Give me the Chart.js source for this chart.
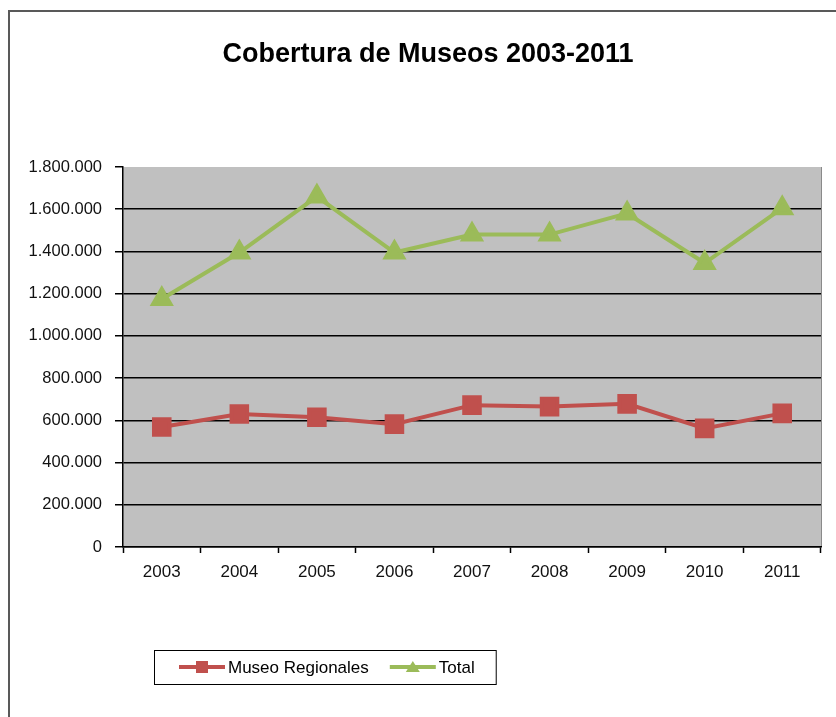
<!DOCTYPE html>
<html>
<head>
<meta charset="utf-8">
<script src="https://cdn.jsdelivr.net/npm/chart.js@4/dist/chart.umd.min.js"></script>
<style>
  html,body{margin:0;padding:0;background:#fff;}
  #wrap{width:836px;height:717px;position:relative;}
</style>
</head>
<body>
<div id="wrap"><canvas id="museos" width="836" height="717"></canvas></div>
<script>
var years=['2003','2004','2005','2006','2007','2008','2009','2010','2011'];
var museoRegionales=[568000,630000,615000,582000,672000,665000,678000,562000,633000];
var total=[1175000,1395000,1660000,1395000,1480000,1480000,1580000,1345000,1605000];
var yTicks={min:0,max:1800000,step:200000};
var titleText='Cobertura de Museos 2003-2011';

var fontFamily='"Liberation Sans", Arial, sans-serif';

var fmtMiles=function(v){
    return String(v).replace(/\B(?=(\d{3})+(?!\d))/g,'.');
};

// gray plot area + outer frame
var backdrop={
    id:'backdrop',
    beforeDraw:function(chart){
        var ctx=chart.ctx,a=chart.chartArea;
        ctx.save();
        ctx.fillStyle='#ffffff';
        ctx.fillRect(0,0,chart.width,chart.height);
        ctx.strokeStyle='#595959';
        ctx.lineWidth=2;
        ctx.strokeRect(9,11,chart.width+20,chart.height+20);
        ctx.fillStyle='#c0c0c0';
        ctx.fillRect(a.left,a.top,a.right-a.left,a.bottom-a.top);
        ctx.strokeStyle='#8a8a8a';
        ctx.lineWidth=1;
        ctx.beginPath();
        ctx.moveTo(a.right+0.5,a.top);
        ctx.lineTo(a.right+0.5,a.bottom);
        ctx.stroke();
        ctx.restore();
    }
};

// chart title, centred on the framed area rather than the canvas
var frameTitle={
    id:'frameTitle',
    afterDraw:function(chart){
        var ctx=chart.ctx;
        ctx.save();
        ctx.font='bold 27px '+fontFamily;
        ctx.fillStyle='#000';
        ctx.textAlign='center';
        ctx.textBaseline='middle';
        ctx.fillText(titleText,(chart.chartArea.left+chart.chartArea.right)/2-44,55);
        ctx.restore();
    }
};

// legend box under the chart, line + marker samples
var boxLegend={
    id:'boxLegend',
    afterDraw:function(chart){
        var ctx=chart.ctx,a=chart.chartArea,
            left=a.left+31,top=a.bottom+103,h=34,cy=top+h/2,
            x=left+25;
        ctx.save();
        ctx.font='17px '+fontFamily;
        ctx.textBaseline='middle';
        chart.data.datasets.forEach(function(ds,i){
            ctx.strokeStyle=ds.borderColor;
            ctx.lineWidth=4;
            ctx.beginPath();
            ctx.moveTo(x,cy);ctx.lineTo(x+46,cy);
            ctx.stroke();
            ctx.fillStyle=ds.backgroundColor;
            if(ds.pointStyle==='rect'){
                ctx.fillRect(x+23-6,cy-6,12,12);
            }else{
                ctx.beginPath();
                ctx.moveTo(x+23,cy-6);ctx.lineTo(x+30,cy+5);ctx.lineTo(x+16,cy+5);
                ctx.closePath();ctx.fill();
            }
            ctx.fillStyle='#000';
            ctx.fillText(ds.label,x+49,cy+1);
            x+=49+ctx.measureText(ds.label).width+21;
        });
        ctx.strokeStyle='#000';
        ctx.lineWidth=1;
        ctx.strokeRect(left+0.5,top+0.5,x-left,h);
        ctx.restore();
    }
};

new Chart(document.getElementById('museos'),{
    type:'line',
    data:{
        labels:years,
        datasets:[{
            label:'Museo Regionales',
            data:museoRegionales,
            borderColor:'#c0504d',
            backgroundColor:'#c0504d',
            borderWidth:4,
            pointStyle:'rect',
            pointRadius:11,
            pointHoverRadius:11,
            tension:0
        },{
            label:'Total',
            data:total,
            borderColor:'#9bbb59',
            backgroundColor:'#9bbb59',
            borderWidth:4,
            pointStyle:'triangle',
            pointRadius:10,
            pointHoverRadius:10,
            tension:0
        }]
    },
    options:{
        responsive:false,
        animation:false,
        layout:{padding:{left:20,right:15,top:167,bottom:0}},
        plugins:{
            legend:{display:false},
            tooltip:{enabled:false},
            title:{display:false}
        },
        scales:{
            x:{
                offset:true,
                grid:{offset:true,drawOnChartArea:false,drawTicks:true,tickLength:6,color:'#000',tickWidth:1.5},
                border:{color:'#000',width:1.5},
                ticks:{color:'#111',padding:9,font:{family:fontFamily,size:17},maxRotation:0},
                afterFit:function(s){s.height=170;}
            },
            y:{
                min:yTicks.min,
                max:yTicks.max,
                grid:{
                    color:function(c){return c.tick&&c.tick.value===yTicks.max?'rgba(0,0,0,0)':'#000';},
                    tickColor:'#000',
                    lineWidth:1.5,
                    tickLength:8
                },
                border:{color:'#000',width:1.5},
                ticks:{
                    stepSize:yTicks.step,
                    color:'#111',
                    padding:13,
                    font:{family:fontFamily,size:16.5},
                    callback:function(v){return fmtMiles(v);}
                },
                afterFit:function(s){s.width=103;}
            }
        }
    },
    plugins:[backdrop,frameTitle,boxLegend]
});
</script>
</body>
</html>
